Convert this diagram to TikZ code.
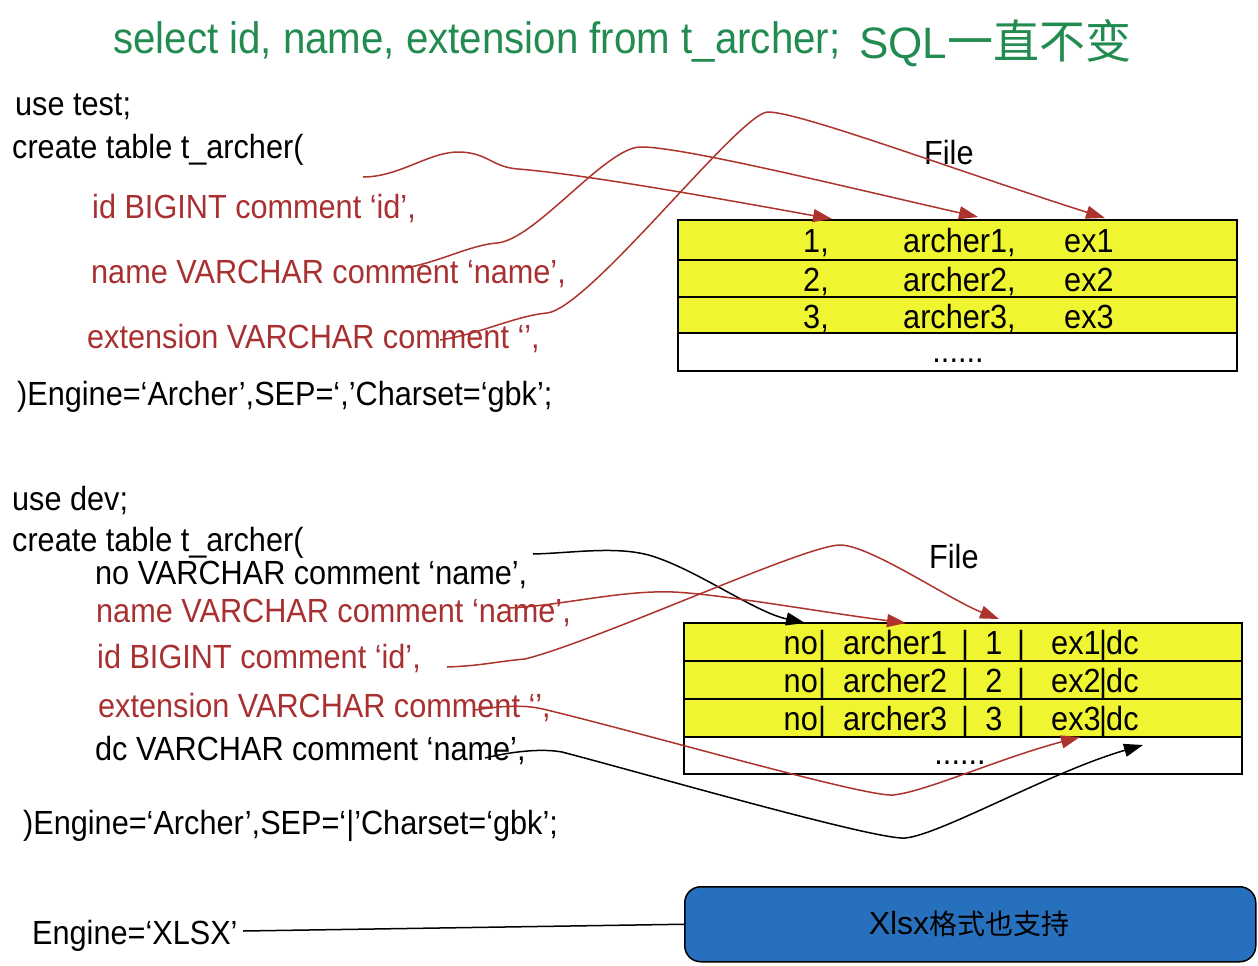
\documentclass[tikz,border=0pt]{standalone}
\usepackage{fontspec}
\setmainfont{Liberation Sans}[FakeStretch=0.915]
\newfontfamily\plainfont{Liberation Sans}
\newfontfamily\cjk{Noto Sans CJK SC}
\usetikzlibrary{arrows.meta}
\definecolor{tgreen}{RGB}{34,139,80}
\definecolor{tred}{RGB}{168,48,48}
\definecolor{lred}{RGB}{172,52,44}
\definecolor{tyellow}{RGB}{240,245,50}
\definecolor{tblue}{RGB}{38,112,190}
\begin{document}
\begin{tikzpicture}[x=1pt,y=-1pt,
  txt/.style={anchor=base west, inner sep=0pt, font=\fontsize{33.5}{40}\selectfont},
  ctxt/.style={anchor=base, inner sep=0pt, font=\fontsize{33.5}{40}\selectfont},
  etxt/.style={anchor=base east, inner sep=0pt, font=\fontsize{33.5}{40}\selectfont},
  rowbox/.style={draw=black, line width=1.5pt, anchor=north west, inner sep=0pt, outer sep=0pt},
  redarrow/.style={draw=lred, line width=1.5pt, -{Triangle[length=19pt,width=13pt]}},
  blackarrow/.style={draw=black, line width=1.5pt, -{Triangle[length=19pt,width=13pt]}},
  connector/.style={draw=black, line width=1.5pt}
]
\useasboundingbox (0,0) rectangle (1258,966);

% title
\node[anchor=base west, inner sep=0pt, text=tgreen, font=\fontsize{44}{50}\selectfont] (title1) at (113,54) {select id, name, extension from t\_archer;};
\node[anchor=base west, inner sep=0pt, text=tgreen, font=\plainfont\fontsize{44}{50}\selectfont] (title2) at (859,59) {SQL{\cjk\fontsize{46}{50}\selectfont 一直不变}};

% top SQL
\node[txt] (u1) at (15,115) {use test;};
\node[txt] (c1) at (12,158) {create table t\_archer(};
\node[txt,text=tred] (f1) at (92,218) {id BIGINT comment ‘id’,};
\node[txt,text=tred] (f2) at (91,283) {name VARCHAR comment ‘name’,};
\node[txt,text=tred] (f3) at (87,348) {extension VARCHAR comment ‘’,};
\node[txt] (e1) at (17,405) {)Engine=‘Archer’,SEP=‘,’Charset=‘gbk’;};

% top file
\node[txt] (file1) at (924,164) {File};
\node[rowbox, fill=tyellow, minimum width=559pt, minimum height=40pt] (t1) at (678,220) {};
\node[rowbox, fill=tyellow, minimum width=559pt, minimum height=37pt] (t2) at (678,260) {};
\node[rowbox, fill=tyellow, minimum width=559pt, minimum height=36pt] (t3) at (678,297) {};
\node[rowbox, fill=white, minimum width=559pt, minimum height=38pt] (t4) at (678,333) {};
\node[txt] (t1a) at (803,252) {1,};
\node[txt] (t1b) at (903,252) {archer1,};
\node[txt] (t1c) at (1064,252) {ex1};
\node[txt] (t2a) at (803,291) {2,};
\node[txt] (t2b) at (903,291) {archer2,};
\node[txt] (t2c) at (1064,291) {ex2};
\node[txt] (t3a) at (803,328) {3,};
\node[txt] (t3b) at (903,328) {archer3,};
\node[txt] (t3c) at (1064,328) {ex3};
\node[ctxt] (t4a) at (958,362) {......};

% bottom SQL
\node[txt] (u2) at (12,510) {use dev;};
\node[txt] (c2) at (12,551) {create table t\_archer(};
\node[txt] (g1) at (95,584) {no VARCHAR comment ‘name’,};
\node[txt,text=tred] (g2) at (96,622) {name VARCHAR comment ‘name’,};
\node[txt,text=tred] (g3) at (97,668) {id BIGINT comment ‘id’,};
\node[txt,text=tred] (g4) at (98,717) {extension VARCHAR comment ‘’,};
\node[txt] (g5) at (95,760) {dc VARCHAR comment ‘name’,};
\node[txt] (e2) at (23,834) {)Engine=‘Archer’,SEP=‘|’Charset=‘gbk’;};
\node[txt] (x1) at (32,944) {Engine=‘XLSX’};

% bottom file
\node[txt] (file2) at (929,568) {File};
\node[rowbox, fill=tyellow, minimum width=558pt, minimum height=38pt] (b1) at (684,623) {};
\node[rowbox, fill=tyellow, minimum width=558pt, minimum height=38pt] (b2) at (684,661) {};
\node[rowbox, fill=tyellow, minimum width=558pt, minimum height=38pt] (b3) at (684,699) {};
\node[rowbox, fill=white, minimum width=558pt, minimum height=37pt] (b4) at (684,737) {};
\foreach \r/\y/\n in {1/654/1,2/692/2,3/730/3}{
  \node[etxt] (b\r a) at (818,\y) {no};
  \node[ctxt] (b\r p) at (822,\y) {|};
  \node[txt] (b\r b) at (843,\y) {archer\n};
  \node[ctxt] (b\r q) at (965,\y) {|};
  \node[ctxt] (b\r c) at (994,\y) {\n};
  \node[ctxt] (b\r r) at (1021,\y) {|};
  \node[txt] (b\r d) at (1051,\y) {ex\n};
  \node[ctxt] (b\r s) at (1103,\y) {|};
  \node[txt] (b\r e) at (1106,\y) {dc};
}
\node[ctxt] (b4a) at (960,764) {......};

% xlsx box
\node[draw=black, line width=1.5pt, fill=tblue, rounded corners=16pt, minimum width=571pt, minimum height=75pt, anchor=north west, inner sep=0pt] (xbox) at (684,886) {};
\node[inner sep=0pt] (xtext) at (969,924) {{\plainfont\fontsize{32}{36}\selectfont Xlsx}{\cjk\fontsize{28}{32}\selectfont 格式也支持}};
\coordinate (xs) at (243,931);
\draw[connector] (xs) -- (xbox.west);

% top curves
\coordinate (As) at (363,177); \coordinate (Ae) at (832,219);
\coordinate (Bs) at (405,268); \coordinate (Be) at (978,217);
\coordinate (Cs) at (440,340); \coordinate (Ce) at (1105,218);
\draw[redarrow] (As) .. controls (400,177) and (430,151) .. (460,152)
  .. controls (488,153) and (492,167) .. (518,169)
  .. controls (580,174) and (700,195) .. (Ae);
\draw[redarrow] (Bs) .. controls (440,262) and (470,245) .. (497,243)
  .. controls (535,240) and (605,148) .. (640,147)
  .. controls (680,146) and (850,188) .. (Be);
\draw[redarrow] (Cs) .. controls (480,334) and (515,316) .. (547,313)
  .. controls (590,308) and (740,112) .. (768,112)
  .. controls (800,112) and (960,172) .. (Ce);

% bottom curves
\coordinate (Ds) at (533,554); \coordinate (De) at (805,623);
\coordinate (Es) at (508,608); \coordinate (Ee) at (906,623);
\coordinate (Fs) at (447,667); \coordinate (Fe) at (999,619);
\coordinate (Gs) at (475,710); \coordinate (Ge) at (1080,737);
\coordinate (Hs) at (485,758); \coordinate (He) at (1143,745);
\draw[blackarrow] (Ds) .. controls (575,553) and (620,545) .. (655,557)
  .. controls (700,572) and (755,612) .. (De);
\draw[redarrow] (Es) .. controls (560,606) and (620,590) .. (673,592)
  .. controls (720,594) and (820,612) .. (Ee);
\draw[redarrow] (Fs) .. controls (480,666) and (500,661) .. (525,659)
  .. controls (600,640) and (805,545) .. (840,545)
  .. controls (870,545) and (950,600) .. (Fe);
\draw[redarrow] (Gs) .. controls (500,706) and (525,704) .. (547,710)
  .. controls (650,735) and (865,797) .. (893,795)
  .. controls (925,792) and (1000,758) .. (Ge);
\draw[blackarrow] (Hs) .. controls (510,752) and (540,748) .. (562,752)
  .. controls (650,775) and (875,840) .. (905,838)
  .. controls (940,835) and (1050,772) .. (He);
\end{tikzpicture}
\end{document}
